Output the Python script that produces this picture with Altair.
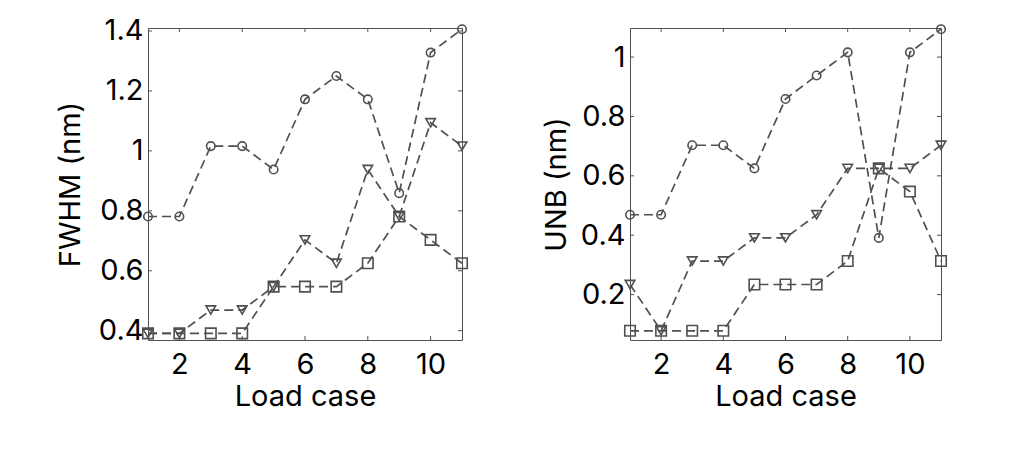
import altair as alt
import pandas as pd

load_case = list(range(1, 12))

fwhm_circle = [0.781, 0.781, 1.016, 1.016, 0.938, 1.172, 1.250, 1.172, 0.859, 1.328, 1.406]
fwhm_triangle = [0.391, 0.391, 0.469, 0.469, 0.547, 0.703, 0.625, 0.938, 0.781, 1.094, 1.016]
fwhm_square = [0.391, 0.391, 0.391, 0.391, 0.547, 0.547, 0.547, 0.625, 0.781, 0.703, 0.625]

unb_circle = [0.469, 0.469, 0.703, 0.703, 0.625, 0.859, 0.938, 1.016, 0.391, 1.016, 1.094]
unb_triangle = [0.234, 0.078, 0.313, 0.313, 0.391, 0.391, 0.469, 0.625, 0.625, 0.625, 0.703]
unb_square = [0.078, 0.078, 0.078, 0.078, 0.234, 0.234, 0.234, 0.313, 0.625, 0.547, 0.313]

series_names = ["circle", "triangle", "square"]
x_ticks = [2, 4, 6, 8, 10]
fwhm_ticks = [0.4, 0.6, 0.8, 1.0, 1.2, 1.4]
unb_ticks = [0.2, 0.4, 0.6, 0.8, 1.0]

GRAY = "#505050"
FONT = "Inter"
FS = 29
H = 312


def long_df(lists):
    rows = []
    for name, vals in zip(series_names, lists):
        for xv, yv in zip(load_case, vals):
            rows.append({"x": xv, "y": yv, "series": name})
    return pd.DataFrame(rows)


def panel(df, ytitle, ydomain, yticks, title_pad, width):
    xs = alt.Scale(domain=[1, 11], nice=False, zero=False)
    ys = alt.Scale(domain=ydomain, nice=False, zero=False)
    xax = alt.Axis(values=x_ticks, title="Load case", ticks=False, domain=False, grid=False,
                   labelPadding=10, titlePadding=3)
    yax = alt.Axis(values=yticks, format="~g", title=ytitle, ticks=False, domain=False,
                   grid=False, labelPadding=5, titlePadding=title_pad)
    base = alt.Chart(df)
    lines = base.mark_line(strokeDash=[9, 5], strokeWidth=1.7, color=GRAY).encode(
        x=alt.X("x:Q", scale=xs, axis=xax), y=alt.Y("y:Q", scale=ys, axis=yax),
        detail="series:N")
    points = base.mark_point(filled=False, strokeWidth=1.6, color=GRAY, opacity=1).encode(
        x=alt.X("x:Q", scale=xs, axis=xax),
        y=alt.Y("y:Q", scale=ys, axis=yax),
        shape=alt.Shape("series:N", scale=alt.Scale(domain=series_names,
                        range=["circle", "triangle-down", "square"]), legend=None),
        size=alt.Size("series:N", scale=alt.Scale(domain=series_names,
                      range=[72, 110, 45]), legend=None),
    )
    ydf = pd.DataFrame({"v": yticks})
    xdf = pd.DataFrame({"v": x_ticks})
    yt_left = alt.Chart(ydf).mark_rule(color=GRAY, strokeWidth=1).encode(
        y=alt.Y("v:Q", scale=ys, axis=yax), x=alt.value(0), x2=alt.value(4))
    yt_right = alt.Chart(ydf).mark_rule(color=GRAY, strokeWidth=1).encode(
        y=alt.Y("v:Q", scale=ys, axis=yax), x=alt.value(width), x2=alt.value(width - 4))
    xt_bot = alt.Chart(xdf).mark_rule(color=GRAY, strokeWidth=1).encode(
        x=alt.X("v:Q", scale=xs, axis=xax), y=alt.value(H), y2=alt.value(H - 4))
    xt_top = alt.Chart(xdf).mark_rule(color=GRAY, strokeWidth=1).encode(
        x=alt.X("v:Q", scale=xs, axis=xax), y=alt.value(0), y2=alt.value(4))
    return alt.layer(lines, yt_left, yt_right, xt_bot, xt_top, points).properties(
        width=width, height=H)


left = panel(long_df([fwhm_circle, fwhm_triangle, fwhm_square]), "FWHM (nm)",
             [0.369, 1.41], fwhm_ticks, 13, 314)
right = panel(long_df([unb_circle, unb_triangle, unb_square]), "UNB (nm)",
              [0.047, 1.098], unb_ticks, 9, 311)

chart = alt.hconcat(left, right, spacing=70).configure_view(
    stroke=GRAY, strokeWidth=1
).configure_axis(
    labelFont=FONT, titleFont=FONT, labelFontSize=FS, titleFontSize=FS,
    titleFontWeight="normal", labelColor="black", titleColor="black"
).properties(padding={"left": 47, "top": 8, "right": 5, "bottom": 5})

chart.save("out.html", embed_options={"renderer": "svg", "actions": False})
